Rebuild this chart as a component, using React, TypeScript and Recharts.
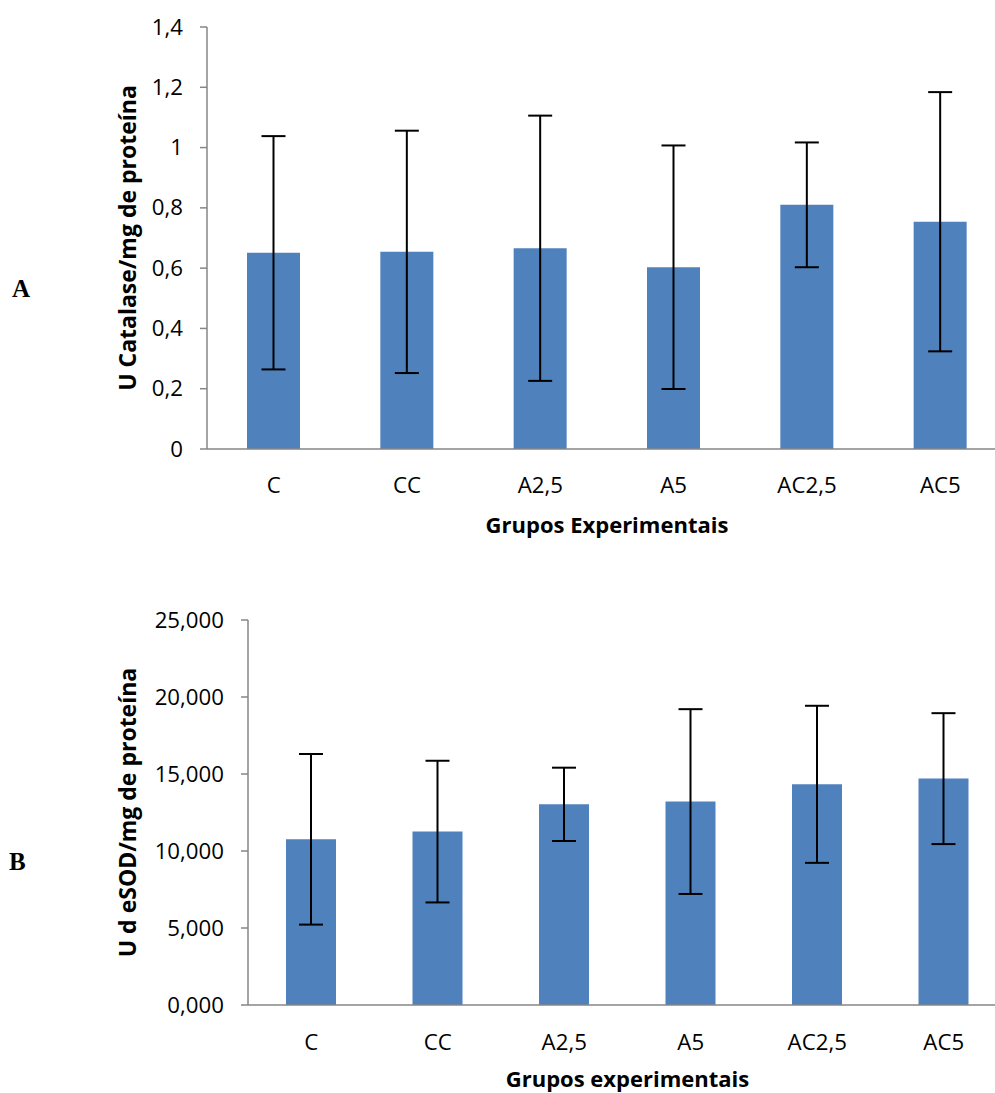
import React from "react";
import { BarChart, Bar, XAxis, YAxis, ErrorBar } from "recharts";

const groups = ["C", "CC", "A2,5", "A5", "AC2,5", "AC5"];

// painel A: catalase
const catalaseMean = [0.651, 0.654, 0.666, 0.603, 0.81, 0.754];
const catalaseSd = [0.387, 0.402, 0.44, 0.404, 0.207, 0.43];
const catalaseTicks = [0, 0.2, 0.4, 0.6, 0.8, 1, 1.2, 1.4];

// painel B: eSOD
const sodMean = [10.76, 11.26, 13.03, 13.21, 14.33, 14.7];
const sodSd = [5.54, 4.6, 2.38, 6.0, 5.1, 4.25];
const sodTicks = [0, 5, 10, 15, 20, 25];

const BLUE = "#4F81BD";
const AXIS = "#868686";
const FONT = "'Open Sans', sans-serif";
const TICK_SIZE = 21;
const STRETCH = 1.06; // the original labels are drawn slightly wide

const dataA = groups.map((g, i) => ({ name: g, value: catalaseMean[i], err: catalaseSd[i] }));
const dataB = groups.map((g, i) => ({ name: g, value: sodMean[i], err: sodSd[i] }));

const titleStyle = { fontSize: 22, fontWeight: 700, fill: "#000", fontFamily: FONT };
const yTitleStyle = { fontSize: 23, fontWeight: 700, fill: "#000", fontFamily: FONT };

const panelLetter: React.CSSProperties = {
  position: "absolute",
  fontFamily: "'Liberation Serif', 'Times New Roman', serif",
  fontWeight: 700,
  fontSize: 25,
  lineHeight: 1,
};

function XTick(props: any) {
  const { x, y, payload } = props;
  return (
    <text
      transform={`translate(${x},${y}) scale(${STRETCH},1)`}
      dy="0.71em"
      textAnchor="middle"
      fontSize={TICK_SIZE}
      fontFamily={FONT}
      fill="#000"
    >
      {payload.value}
    </text>
  );
}

function makeYTick(fmt: (v: number) => string) {
  return function YTick(props: any) {
    const { x, y, payload } = props;
    return (
      <text
        transform={`translate(${x},${y}) scale(${STRETCH},1)`}
        dy="0.36em"
        textAnchor="end"
        fontSize={TICK_SIZE}
        fontFamily={FONT}
        fill="#000"
      >
        {fmt(payload.value)}
      </text>
    );
  };
}

const fmtA = (v: number) => String(v).replace(".", ",");
const fmtB = (v: number) => v.toFixed(3).replace(".", ",");
const YTickA = makeYTick(fmtA);
const YTickB = makeYTick(fmtB);

export default function App() {
  return (
    <div
      style={{
        position: "fixed",
        top: 0,
        left: 0,
        width: 995,
        height: 1093,
        overflow: "hidden",
        background: "#fff",
      }}
    >
      <div style={{ ...panelLetter, left: 12, top: 276 }}>A</div>
      <div style={{ ...panelLetter, left: 9, top: 849 }}>B</div>

      <div style={{ position: "absolute", left: 0, top: 0 }}>
        <BarChart width={1010} height={545} data={dataA} margin={{ top: 27, right: 3, left: 0, bottom: 0 }}>
          <XAxis
            dataKey="name"
            height={96}
            tickLine={false}
            tickSize={0}
            tickMargin={29}
            axisLine={{ stroke: AXIS, strokeWidth: 1.5 }}
            tick={<XTick />}
            label={{ value: "Grupos Experimentais", position: "insideTop", offset: 68, style: titleStyle }}
          />
          <YAxis
            width={207}
            domain={[0, 1.4]}
            ticks={catalaseTicks}
            interval={0}
            tickSize={7}
            tickMargin={17}
            axisLine={{ stroke: AXIS, strokeWidth: 1.5 }}
            tickLine={{ stroke: AXIS, strokeWidth: 1.5 }}
            tick={<YTickA />}
            label={{
              value: "U Catalase/mg de proteína",
              angle: -90,
              position: "insideLeft",
              offset: 128,
              textAnchor: "middle",
              style: yTitleStyle,
            }}
          />
          <Bar dataKey="value" fill={BLUE} barSize={53} isAnimationActive={false}>
            <ErrorBar dataKey="err" width={12} stroke="#000" strokeWidth={2} direction="y" />
          </Bar>
        </BarChart>
      </div>

      <div style={{ position: "absolute", left: 0, top: 560 }}>
        <BarChart width={1010} height={533} data={dataB} margin={{ top: 60, right: 3, left: 0, bottom: 0 }}>
          <XAxis
            dataKey="name"
            height={88}
            tickLine={false}
            tickSize={0}
            tickMargin={30}
            axisLine={{ stroke: AXIS, strokeWidth: 1.5 }}
            tick={<XTick />}
            label={{ value: "Grupos experimentais", position: "insideTop", offset: 66, style: titleStyle }}
          />
          <YAxis
            width={248}
            domain={[0, 25]}
            ticks={sodTicks}
            interval={0}
            tickSize={7}
            tickMargin={17}
            axisLine={{ stroke: AXIS, strokeWidth: 1.5 }}
            tickLine={{ stroke: AXIS, strokeWidth: 1.5 }}
            tick={<YTickB />}
            label={{
              value: "U d eSOD/mg de proteína",
              angle: -90,
              position: "insideLeft",
              offset: 128,
              textAnchor: "middle",
              style: yTitleStyle,
            }}
          />
          <Bar dataKey="value" fill={BLUE} barSize={50} isAnimationActive={false}>
            <ErrorBar dataKey="err" width={12} stroke="#000" strokeWidth={2} direction="y" />
          </Bar>
        </BarChart>
      </div>
    </div>
  );
}
